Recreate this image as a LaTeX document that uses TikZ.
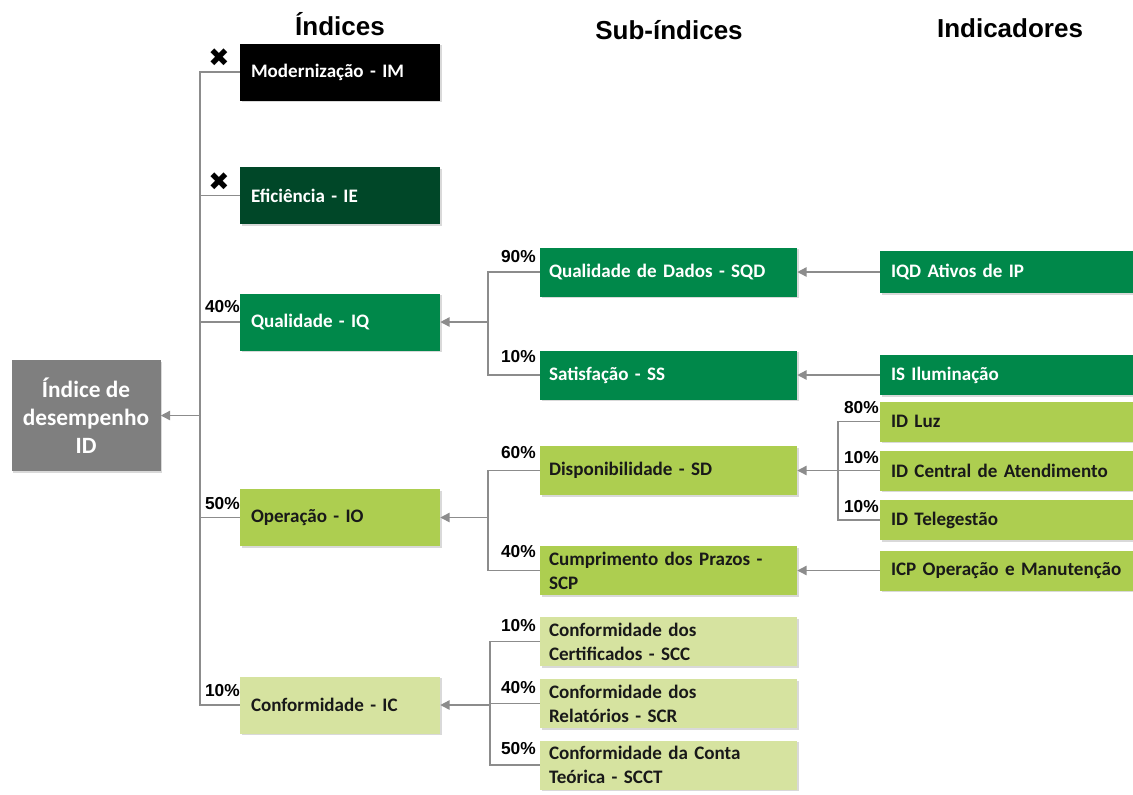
\documentclass[tikz,border=0pt]{standalone}
\usepackage{fontspec}
\setmainfont{Carlito}
\newfontfamily\hfont{Liberation Sans}
\newfontfamily\symfont{DejaVu Sans}
\usetikzlibrary{arrows.meta,shadows}
\definecolor{gdark}{RGB}{0,71,40}
\definecolor{gmid}{RGB}{0,136,74}
\definecolor{glight}{RGB}{173,206,80}
\definecolor{gpale}{RGB}{214,227,160}
\definecolor{groot}{RGB}{127,127,127}
\definecolor{lgray}{RGB}{140,140,140}
\definecolor{ink}{RGB}{25,25,25}
\begin{document}
\begin{tikzpicture}[x=0.75pt,y=-0.75pt,
  box/.style={rectangle, align=left, font=\bfseries\fontsize{14.3}{18}\selectfont,
    drop shadow={shadow xshift=1.2pt,shadow yshift=-1.2pt,opacity=0.3}},
  idx/.style={box, minimum width=150pt, minimum height=42.75pt, inner xsep=8.25pt, inner ysep=0pt, text width=133.5pt},
  sub/.style={box, minimum width=192.75pt, minimum height=36.75pt, inner xsep=6.75pt, inner ysep=0pt, text width=179.25pt},
  ind/.style={box, minimum width=189.75pt, minimum height=30pt, inner xsep=8.25pt, inner ysep=0pt, text width=173.25pt},
  dk/.style={text=white},
  lt/.style={text=ink},
  pct/.style={font=\hfont\bfseries\fontsize{13}{13}\selectfont, text=black, inner sep=0pt, anchor=east},
  head/.style={font=\hfont\bfseries\fontsize{19.5}{20}\selectfont, inner sep=0pt, anchor=base},
  xmark/.style={font=\symfont\fontsize{19}{19}\selectfont, inner sep=0pt},
  link/.style={draw=lgray, line width=1.1pt},
  arr/.style={link, -{Triangle[length=7pt,width=7pt]}}
]
\useasboundingbox (0,0) rectangle (1133,794);

% headers
\node[head] (hI) at (340,35) {Índices};
\node[head] (hS) at (669,39) {Sub-índices};
\node[head] (hN) at (1010,37) {Indicadores};

% root
\node[box, fill=groot, text=white, align=center, minimum width=111.75pt, minimum height=83.25pt,
  inner sep=0pt, font=\bfseries\fontsize{17.5}{21}\selectfont] (ID) at (86,415.5) {Índice de\\desempenho\\ID};

% indices
\node[idx, fill=black, dk] (IM) at (340,72) {Modernização - IM};
\node[idx, fill=gdark, dk] (IE) at (340,195.5) {Eficiência - IE};
\node[idx, fill=gmid, dk] (IQ) at (340,322) {Qualidade - IQ};
\node[idx, fill=glight, lt] (IO) at (340,517.5) {Operação - IO};
\node[idx, fill=gpale, lt] (IC) at (340,705) {Conformidade - IC};

% sub-indices
\node[sub, fill=gmid, dk] (SQD) at (668.5,272) {Qualidade de Dados - SQD};
\node[sub, fill=gmid, dk] (SS) at (668.5,375) {Satisfação - SS};
\node[sub, fill=glight, lt] (SD) at (668.5,470.5) {Disponibilidade - SD};
\node[sub, fill=glight, lt] (SCP) at (668.5,570.5) {Cumprimento dos Prazos -\\SCP};
\node[sub, fill=gpale, lt] (SCC) at (668.5,641.5) {Conformidade dos\\Certificados - SCC};
\node[sub, fill=gpale, lt] (SCR) at (668.5,703.5) {Conformidade dos\\Relatórios - SCR};
\node[sub, fill=gpale, lt] (SCCT) at (668.5,765) {Conformidade da Conta\\Teórica - SCCT};

% indicators
\node[ind, fill=gmid, dk, minimum height=31.5pt] (IQD) at (1006.5,272) {IQD Ativos de IP};
\node[ind, fill=gmid, dk] (IS) at (1006.5,375) {IS Iluminação};
\node[ind, fill=glight, lt] (LUZ) at (1006.5,421.5) {ID Luz};
\node[ind, fill=glight, lt] (CEN) at (1006.5,470.5) {ID Central de Atendimento};
\node[ind, fill=glight, lt] (TEL) at (1006.5,520) {ID Telegestão};
\node[ind, fill=glight, lt] (ICP) at (1006.5,570.5) {ICP Operação e Manutenção};

% trunk
\coordinate (t) at (200,415.5);
\draw[link] (IM.west) -| (t);
\draw[link] (IE.west) -| (t);
\draw[link] (IQ.west) -| (t);
\draw[link] (IO.west) -| (t);
\draw[link] (IC.west) -| (t);
\draw[arr] (t) -- (ID.east);

% IQ branch
\coordinate (q) at (488,322);
\draw[link] (SQD.west) -| (q);
\draw[link] (SS.west) -| (q);
\draw[arr] (q) -- (IQ.east);

% IO branch
\coordinate (o) at (488,517.5);
\draw[link] (SD.west) -| (o);
\draw[link] (SCP.west) -| (o);
\draw[arr] (o) -- (IO.east);

% IC branch
\coordinate (c) at (490,705);
\draw[link] (SCC.west) -| (c);
\draw[link] (SCR.west) -| (c);
\draw[link] (SCCT.west) -| (c);
\draw[arr] (c) -- (IC.east);

% indicators to sub-indices
\draw[arr] (IQD.west) -- (SQD.east);
\draw[arr] (IS.west) -- (SS.east);
\draw[arr] (ICP.west) -- (SCP.east);
\coordinate (d) at (838,470.5);
\draw[link] (LUZ.west) -| (d);
\draw[link] (TEL.west) -| (d);
\draw[arr] (CEN.west) -- (SD.east);

% x marks
\node[xmark] (x1) at (219,58) {✖};
\node[xmark] (x2) at (219,182) {✖};

% percentages
\node[pct] (p1) at (240,307) {40\%};
\node[pct] (p2) at (240,504) {50\%};
\node[pct] (p3) at (240,691) {10\%};
\node[pct] (p4) at (536,256.5) {90\%};
\node[pct] (p5) at (536,357) {10\%};
\node[pct] (p6) at (536,453) {60\%};
\node[pct] (p7) at (536,552) {40\%};
\node[pct] (p8) at (536,626) {10\%};
\node[pct] (p9) at (536,688) {40\%};
\node[pct] (p10) at (536,749) {50\%};
\node[pct] (p11) at (879,408) {80\%};
\node[pct] (p12) at (879,458) {10\%};
\node[pct] (p13) at (879,507) {10\%};
\end{tikzpicture}
\end{document}
